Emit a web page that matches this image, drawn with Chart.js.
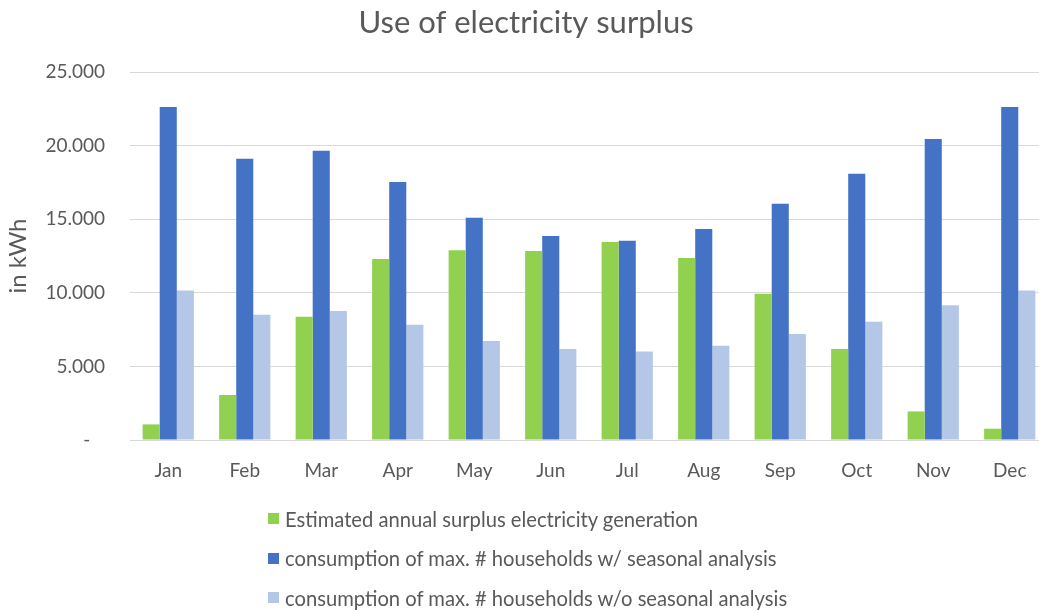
<!DOCTYPE html>
<html>
<head>
<meta charset="utf-8">
<title>Use of electricity surplus</title>
<script src="https://cdn.jsdelivr.net/npm/chart.js@4.4.1/dist/chart.umd.min.js"></script>
<style>
    html, body { margin: 0; padding: 0; background: #fff; }
    #wrap { position: relative; width: 1039px; height: 611px; overflow: hidden; }
    #myChart { position: absolute; left: 0; top: 0; }
    #legend { position: absolute; left: 268px; top: 499px; font-family: Lato, sans-serif; font-size: 20.2px; color: #595959; }
    #legend .item { height: 39.5px; display: flex; align-items: center; white-space: nowrap; }
    #legend .box { width: 11px; height: 11px; margin-right: 6px; flex: none; }
</style>
</head>
<body>
<div id="wrap">
    <canvas id="myChart" width="1048" height="611"></canvas>
    <div id="legend"></div>
</div>
<script>
var months = ['Jan', 'Feb', 'Mar', 'Apr', 'May', 'Jun', 'Jul', 'Aug', 'Sep', 'Oct', 'Nov', 'Dec'];
var surplus = [1060, 3060, 8380, 12300, 12900, 12840, 13450, 12360, 9940, 6180, 1940, 770];
var withSeasonal = [22620, 19110, 19650, 17530, 15100, 13860, 13540, 14330, 16050, 18090, 20450, 22620];
var withoutSeasonal = [10160, 8510, 8760, 7830, 6730, 6180, 6020, 6410, 7200, 8040, 9150, 10160];
var seriesNames = [
    'Estimated annual surplus electricity generation',
    'consumption of max. # households w/ seasonal analysis',
    'consumption of max. # households w/o seasonal analysis'
];
var colors = ['#92D050', '#4472C4', '#B4C7E7'];

var textColor = '#595959';
var font = 'Lato, sans-serif';

// 25000 -> "25.000", zero shown as a dash
var formatTick = function(v){
    if (v === 0) return '-   ';
    return String(v).replace(/\B(?=(\d{3})+(?!\d))/g, '.');
};

var datasets = [surplus, withSeasonal, withoutSeasonal].map(function(values, i){
    return {
        label: seriesNames[i],
        data: values,
        backgroundColor: colors[i],
        borderWidth: 0,
        categoryPercentage: 0.67,
        barPercentage: 1.0
    };
});

var ctx = document.getElementById('myChart').getContext('2d');
var myChart = new Chart(ctx, {
    type: 'bar',
    data: { labels: months, datasets: datasets },
    options: {
        responsive: false,
        animation: false,
        layout: { padding: { left: 4, right: 0, top: 0, bottom: 125 } },
        plugins: {
            legend: { display: false },
            tooltip: { enabled: false },
            title: {
                display: true,
                text: 'Use of electricity surplus',
                color: textColor,
                font: { family: font, size: 31, weight: 'normal' },
                padding: { top: 4, bottom: 30.9 }
            }
        },
        scales: {
            x: {
                grid: { display: false, drawTicks: false },
                border: { display: false },
                ticks: { color: textColor, font: { family: font, size: 19 }, padding: 19 },
                afterFit: function(scale){ scale.height = 46; }
            },
            y: {
                min: 0,
                max: 25000,
                ticks: {
                    stepSize: 5000,
                    color: textColor,
                    font: { family: font, size: 19 },
                    padding: 25,
                    callback: formatTick
                },
                grid: { color: '#D9D9D9', lineWidth: 1, drawTicks: false },
                border: { display: false },
                title: {
                    display: true,
                    text: 'in kWh',
                    color: textColor,
                    font: { family: font, size: 24 },
                    padding: { top: 0, bottom: 0 }
                },
                afterFit: function(scale){ scale.width = 126; }
            }
        }
    }
});

// legend as a stacked list under the chart
var legendHtml = '';
seriesNames.forEach(function(name, i){
    legendHtml += '<div class="item"><span class="box" style="background:' + colors[i] + '"></span>' + name + '</div>';
});
document.getElementById('legend').innerHTML = legendHtml;
</script>
</body>
</html>
